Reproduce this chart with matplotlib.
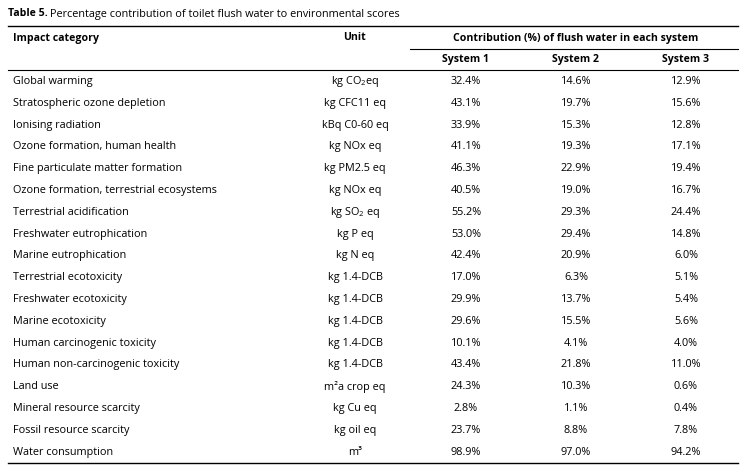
import matplotlib
matplotlib.use('Agg')
import matplotlib.pyplot as plt

plt.rcParams['font.family'] = ['Open Sans', 'DejaVu Sans']
plt.rcParams['mathtext.fontset'] = 'custom'
plt.rcParams['mathtext.rm'] = 'Open Sans'
plt.rcParams['mathtext.it'] = 'Open Sans:italic'
plt.rcParams['mathtext.bf'] = 'Open Sans:bold'

# table data
categories = [
    'Global warming', 'Stratospheric ozone depletion', 'Ionising radiation',
    'Ozone formation, human health', 'Fine particulate matter formation',
    'Ozone formation, terrestrial ecosystems', 'Terrestrial acidification',
    'Freshwater eutrophication', 'Marine eutrophication', 'Terrestrial ecotoxicity',
    'Freshwater ecotoxicity', 'Marine ecotoxicity', 'Human carcinogenic toxicity',
    'Human non-carcinogenic toxicity', 'Land use', 'Mineral resource scarcity',
    'Fossil resource scarcity', 'Water consumption',
]
units = [
    'kg CO$_2$eq', 'kg CFC11 eq', 'kBq C0-60 eq', 'kg NOx eq', 'kg PM2.5 eq',
    'kg NOx eq', 'kg SO$_2$ eq', 'kg P eq', 'kg N eq', 'kg 1.4-DCB', 'kg 1.4-DCB',
    'kg 1.4-DCB', 'kg 1.4-DCB', 'kg 1.4-DCB', 'm²a crop eq', 'kg Cu eq',
    'kg oil eq', 'm³',
]
system1 = [32.4, 43.1, 33.9, 41.1, 46.3, 40.5, 55.2, 53.0, 42.4, 17.0, 29.9, 29.6, 10.1, 43.4, 24.3, 2.8, 23.7, 98.9]
system2 = [14.6, 19.7, 15.3, 19.3, 22.9, 19.0, 29.3, 29.4, 20.9, 6.3, 13.7, 15.5, 4.1, 21.8, 10.3, 1.1, 8.8, 97.0]
system3 = [12.9, 15.6, 12.8, 17.1, 19.4, 16.7, 24.4, 14.8, 6.0, 5.1, 5.4, 5.6, 4.0, 11.0, 0.6, 0.4, 7.8, 94.2]
systems = ['System 1', 'System 2', 'System 3']

W, H = 746, 466
fig = plt.figure(figsize=(W / 100, H / 100), dpi=100)
ax = fig.add_axes([0, 0, 1, 1])
ax.set_xlim(0, W)
ax.set_ylim(H, 0)
ax.axis('off')

fs = 7.85      # regular text
fs_b = 7.6     # bold headers
x_cat = 13
x_unit = 355
x_sys = [466, 576, 686]

# title
t1 = ax.text(8, 14, 'Table 5.', fontsize=fs_b, fontweight='bold', va='center')
fig.canvas.draw()
bb = t1.get_window_extent()
x_after = ax.transData.inverted().transform((bb.x1, 0))[0]
ax.text(x_after + 2.5, 14, 'Percentage contribution of toilet flush water to environmental scores',
        fontsize=fs, va='center')

# rules
ax.plot([8, 738], [26, 26], color='black', lw=1.0)
ax.plot([410, 738], [49, 49], color='black', lw=0.8)
ax.plot([8, 738], [70, 70], color='black', lw=0.8)
ax.plot([8, 738], [463, 463], color='black', lw=1.0)

# header
ax.text(x_cat, 38, 'Impact category', fontsize=fs_b, fontweight='bold', va='center')
ax.text(x_unit, 38, 'Unit', fontsize=fs_b, fontweight='bold', va='center', ha='center')
ax.text(576, 38, 'Contribution (%) of flush water in each system', fontsize=fs_b,
        fontweight='bold', va='center', ha='center')
for xs, s in zip(x_sys, systems):
    ax.text(xs, 59.5, s, fontsize=fs_b, fontweight='bold', va='center', ha='center')

# rows
y0, dy = 81.5, 21.8
for i in range(len(categories)):
    y = y0 + i * dy
    ax.text(x_cat, y, categories[i], fontsize=fs, va='center')
    ax.text(x_unit, y, units[i], fontsize=fs, va='center', ha='center')
    for xs, col in zip(x_sys, [system1, system2, system3]):
        ax.text(xs, y, f'{col[i]:.1f}%', fontsize=fs, va='center', ha='center')

fig.savefig('out.png', dpi=100)
